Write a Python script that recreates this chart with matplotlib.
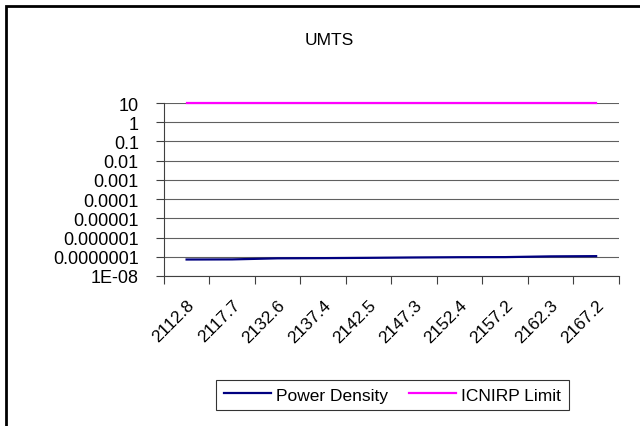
import matplotlib
matplotlib.use("Agg")
import matplotlib.pyplot as plt
from matplotlib.patches import Rectangle
from matplotlib.ticker import FixedLocator, FixedFormatter, NullFormatter

plt.rcParams['font.family'] = ['Liberation Sans', 'DejaVu Sans']

# data
freqs = ["2112.8", "2117.7", "2132.6", "2137.4", "2142.5",
         "2147.3", "2152.4", "2157.2", "2162.3", "2167.2"]
power_density = [7.2e-8, 7.3e-8, 8.3e-8, 8.5e-8, 8.8e-8,
                 9.2e-8, 9.5e-8, 9.6e-8, 1.05e-7, 1.08e-7]
icnirp_limit = [10] * len(freqs)
ytick_vals = [10, 1, 0.1, 0.01, 0.001, 0.0001, 0.00001, 0.000001, 0.0000001, 1e-8]
ytick_labels = ["10", "1", "0.1", "0.01", "0.001", "0.0001", "0.00001",
                "0.000001", "0.0000001", "1E-08"]

fig = plt.figure(figsize=(6.4, 4.27), dpi=100)
ax = fig.add_axes([0.256, 0.3513, 0.711, 0.4051])

x = list(range(len(freqs)))
ax.plot(x, power_density, color='#000080', lw=1.6, label='Power Density',
        clip_on=False, zorder=3)
ax.plot(x, icnirp_limit, color='#FF00FF', lw=1.6, label='ICNIRP Limit',
        clip_on=False, zorder=3)

ax.set_yscale('log')
ax.set_ylim(1e-8, 10)
ax.set_xlim(-0.5, len(freqs) - 0.5)

ax.yaxis.set_major_locator(FixedLocator(ytick_vals))
ax.yaxis.set_major_formatter(FixedFormatter(ytick_labels))
ax.yaxis.set_minor_locator(FixedLocator([]))
ax.tick_params(axis='y', which='major', length=6, direction='out',
               labelsize=13, pad=12, color='#404040')
ax.grid(axis='y', color='#606060', lw=0.8)
ax.set_axisbelow(True)

# category ticks at boundaries, labels at centres
ax.xaxis.set_major_locator(FixedLocator([i - 0.5 for i in range(len(freqs) + 1)]))
ax.xaxis.set_major_formatter(NullFormatter())
ax.xaxis.set_minor_locator(FixedLocator(x))
ax.xaxis.set_minor_formatter(FixedFormatter(freqs))
ax.tick_params(axis='x', which='major', length=6, direction='out', color='#404040')
ax.tick_params(axis='x', which='minor', length=0, pad=15, labelsize=12.5)
for lbl in ax.get_xticklabels(minor=True):
    lbl.set_rotation(45)
    lbl.set_ha('right')
    lbl.set_va('top')
    lbl.set_rotation_mode('anchor')

for s in ['top', 'right']:
    ax.spines[s].set_visible(False)
ax.spines['left'].set_color('#404040')
ax.spines['bottom'].set_color('#404040')

fig.text(0.514, 0.906, "UMTS", ha='center', va='center', fontsize=12.5)

leg = fig.legend(loc='center', bbox_to_anchor=(0.613, 0.0726), ncol=2,
                 fancybox=False, edgecolor='black', fontsize=12.5,
                 handlelength=2.7, handletextpad=0.3, borderpad=0.45,
                 columnspacing=1.2, borderaxespad=0)
leg.get_frame().set_linewidth(0.8)

# outer chart border (cropped at right and bottom)
fig.patches.append(Rectangle((6 / 640, -0.1), 1.2, 1.1 - 7 / 427,
                             transform=fig.transFigure, fill=False,
                             edgecolor='black', lw=2, zorder=10))

fig.savefig("out.png", dpi=100)
